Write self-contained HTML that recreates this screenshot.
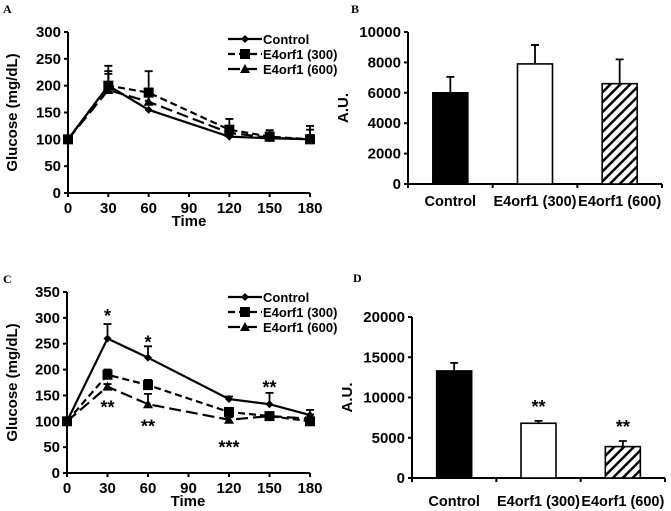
<!DOCTYPE html>
<html><head><meta charset="utf-8"><style>
body{margin:0;background:#fff}
svg{display:block;font-family:"Liberation Sans",Arial,sans-serif;font-weight:bold}
</style></head><body>
<svg id="s" width="671" height="511" viewBox="0 0 671 511">
<defs><pattern id="hatch" patternUnits="userSpaceOnUse" width="7" height="7" patternTransform="rotate(45)"><rect width="7" height="7" fill="#fff"/><rect width="2.5" height="7" fill="#000"/></pattern></defs>
</svg>
<script>
const timesX=[0,30,60,120,150,180];
const xTicks=[0,30,60,90,120,150,180];
const seriesNames=["Control","E4orf1 (300)","E4orf1 (600)"];
const aControl=[100,200,155,105,102,100];
const a300=[100,200,187,118,105,100];
const a600=[100,192,170,112,103,100];
const aControlErr=[0,27,0,8,8,8];
const a300Err=[0,37,40,20,12,25];
const a600Err=[0,30,25,12,10,18];
const aYTicks=[0,50,100,150,200,250,300];
const cControl=[100,260,223,143,133,112];
const c300=[100,190,170,118,110,100];
const c600=[100,167,133,103,110,105];
const cControlErr=[0,28,22,5,22,10];
const c300Err=[0,10,10,8,5,22];
const c600Err=[0,5,20,5,5,8];
const cYTicks=[0,50,100,150,200,250,300,350];
const cStarX=[30,60,150,30,60,120];
const cStarY=[292,241,154,115,78,38];
const cStarText=['*','*','**','**','**','***'];
const barCats=["Control","E4orf1 (300)","E4orf1 (600)"];
const bVals=[6000,7900,6600];
const bErr=[1050,1250,1600];
const bYTicks=[0,2000,4000,6000,8000,10000];
const dVals=[13300,6800,3900];
const dErr=[1000,300,700];
const dYTicks=[0,5000,10000,15000,20000];

const S=document.getElementById('s');
const NS='http://www.w3.org/2000/svg';
function mk(tag,at,txt){const e=document.createElementNS(NS,tag);for(const k in at)e.setAttribute(k,at[k]);if(txt!==undefined)e.textContent=txt;S.appendChild(e);return e;}
function T(x,y,s,size,anchor,name,extra){const e=mk('text',Object.assign({x:x,y:y,'font-size':size,'text-anchor':anchor||'middle'},extra||{}),s);


return e;}

function panelLetter(x,y,l){T(x,y,l,12,'start','panel-label-'+l.toLowerCase(),{'font-family':'Liberation Serif,serif'});}

function lineChart(p){
  const sx=v=>p.x0+(v-0)/(180)*(p.x1-p.x0);
  const sy=v=>p.y0-(v/p.ymax)*(p.y0-p.y1);
  const ax=mk('path',{d:`M${p.x0},${p.y1}V${p.y0}H${p.x1}`,stroke:'#000','stroke-width':2,fill:'none'});
  
  
  p.yt.forEach(v=>{mk('line',{x1:p.x0-4,x2:p.x0,y1:sy(v),y2:sy(v),stroke:'#000','stroke-width':2});T(p.x0-7,sy(v)+5,v,15,'end',p.id+'-y-tick');});
  xTicks.forEach(v=>{mk('line',{x1:sx(v),x2:sx(v),y1:p.y0,y2:p.y0+4,stroke:'#000','stroke-width':2});T(sx(v),p.y0+20,v,15,'middle',p.id+'-x-tick');});
  T(p.x0+121,p.y0+33,'Time',15,'middle',p.id+'-x-axis-title');
  T(0,0,'Glucose (mg/dL)',15,'middle',p.id+'-y-axis-title',{transform:`translate(17,${(p.y0+p.y1)/2}) rotate(-90)`});
  const dash=[null,'7,4','12,5'];
  p.series.forEach((ser,i)=>{
    ser.err.forEach((e,j)=>{if(e>0){const g=mk('path',{d:`M${sx(timesX[j])},${sy(ser.v[j])}V${sy(ser.v[j]+e)}M${sx(timesX[j])-4},${sy(ser.v[j]+e)}H${sx(timesX[j])+4}`,stroke:'#000','stroke-width':1.8,fill:'none'});
      
      }});
    const d=ser.v.map((v,j)=>(j?'L':'M')+sx(timesX[j])+','+sy(v)).join('');
    const l=mk('path',{d:d,stroke:'#000','stroke-width':2.2,fill:'none'});
    if(dash[i])l.setAttribute('stroke-dasharray',dash[i]);
    
    
    ser.v.forEach((v,j)=>{marker(i,sx(timesX[j]),sy(v),p.id+'-point');});
  });
  seriesNames.forEach((n,i)=>{
    const y=p.ly+i*15;
    const l=mk('line',{x1:p.lx,x2:p.lx+34,y1:y,y2:y,stroke:'#000','stroke-width':2.2});
    if(dash[i])l.setAttribute('stroke-dasharray',dash[i]);
    
    
    marker(i,p.lx+17,y,'legend-marker');
    T(p.lx+35,y+5,n,13,'start','legend-entry');
  });
  return {sx,sy};
}
function marker(i,x,y,name){let e;
  if(i==0)e=mk('path',{d:`M${x},${y-4}L${x+4},${y}L${x},${y+4}L${x-4},${y}Z`,fill:'#000'});
  else if(i==1)e=mk('rect',{x:x-5,y:y-5,width:10,height:10,fill:'#000'});
  else e=mk('path',{d:`M${x},${y-5}L${x+5},${y+4}L${x-5},${y+4}Z`,fill:'#000'});
  
  }

function barChart(p){
  const sy=v=>p.y0-(v/p.ymax)*(p.y0-p.y1);
  const cw=(p.x1-p.x0)/3;
  const ax=mk('path',{d:`M${p.x0},${p.y1}V${p.y0}H${p.x1}`,stroke:'#000','stroke-width':2,fill:'none'});
  
  
  p.yt.forEach(v=>{mk('line',{x1:p.x0-4,x2:p.x0,y1:sy(v),y2:sy(v),stroke:'#000','stroke-width':2});T(p.x0-7,sy(v)+5,v,15,'end',p.id+'-y-tick');});
  for(let k=0;k<=3;k++)mk('line',{x1:p.x0+k*cw,x2:p.x0+k*cw,y1:p.y0,y2:p.y0+4,stroke:'#000','stroke-width':2});
  T(0,0,'A.U.',15,'middle',p.id+'-y-axis-title',{transform:`translate(${p.x0-60},${(p.y0+p.y1)/2}) rotate(-90)`});
  const fills=['#000','#fff','url(#hatch)'];
  p.vals.forEach((v,i)=>{
    const cx=p.x0+cw*(i+0.5), w=35;
    const eb=mk('path',{d:`M${cx},${sy(v)}V${sy(v+p.err[i])}M${cx-4},${sy(v+p.err[i])}H${cx+4}`,stroke:'#000','stroke-width':1.8,fill:'none'});
    
    
    const r=mk('rect',{x:cx-w/2,y:sy(v),width:w,height:p.y0-sy(v),fill:fills[i],stroke:'#000','stroke-width':1.6});
    
    
    T(cx,p.y0+p.lab,barCats[i],14.5,'middle',p.id+'-x-label');
    if(p.stars&&p.stars[i])T(cx,sy(v+p.err[i])-p.starOff,p.stars[i],18,'middle','significance-mark');
  });
}

panelLetter(3,13,'A');panelLetter(351,13,'B');panelLetter(3,283,'C');panelLetter(353,282,'D');

lineChart({id:'panel-a',x0:68,x1:310,y0:193,y1:32,ymax:300,yt:aYTicks,lx:228,ly:39,
  series:[{v:aControl,err:aControlErr},{v:a300,err:a300Err},{v:a600,err:a600Err}]});
const c=lineChart({id:'panel-c',x0:67,x1:310,y0:473,y1:292,ymax:350,yt:cYTicks,lx:228,ly:297,
  series:[{v:cControl,err:cControlErr},{v:c300,err:c300Err},{v:c600,err:c600Err}]});
cStarX.forEach((x,i)=>T(c.sx(x),c.sy(cStarY[i]),cStarText[i],18,'middle','significance-mark'));

barChart({id:'panel-b',x0:408,x1:662,y0:184,y1:32,ymax:10000,yt:bYTicks,vals:bVals,err:bErr,lab:22});
barChart({id:'panel-d',x0:412,x1:665,y0:478,y1:317,ymax:20000,yt:dYTicks,vals:dVals,err:dErr,lab:28,stars:['','**','**'],starOff:8});
</script>
</body></html>
